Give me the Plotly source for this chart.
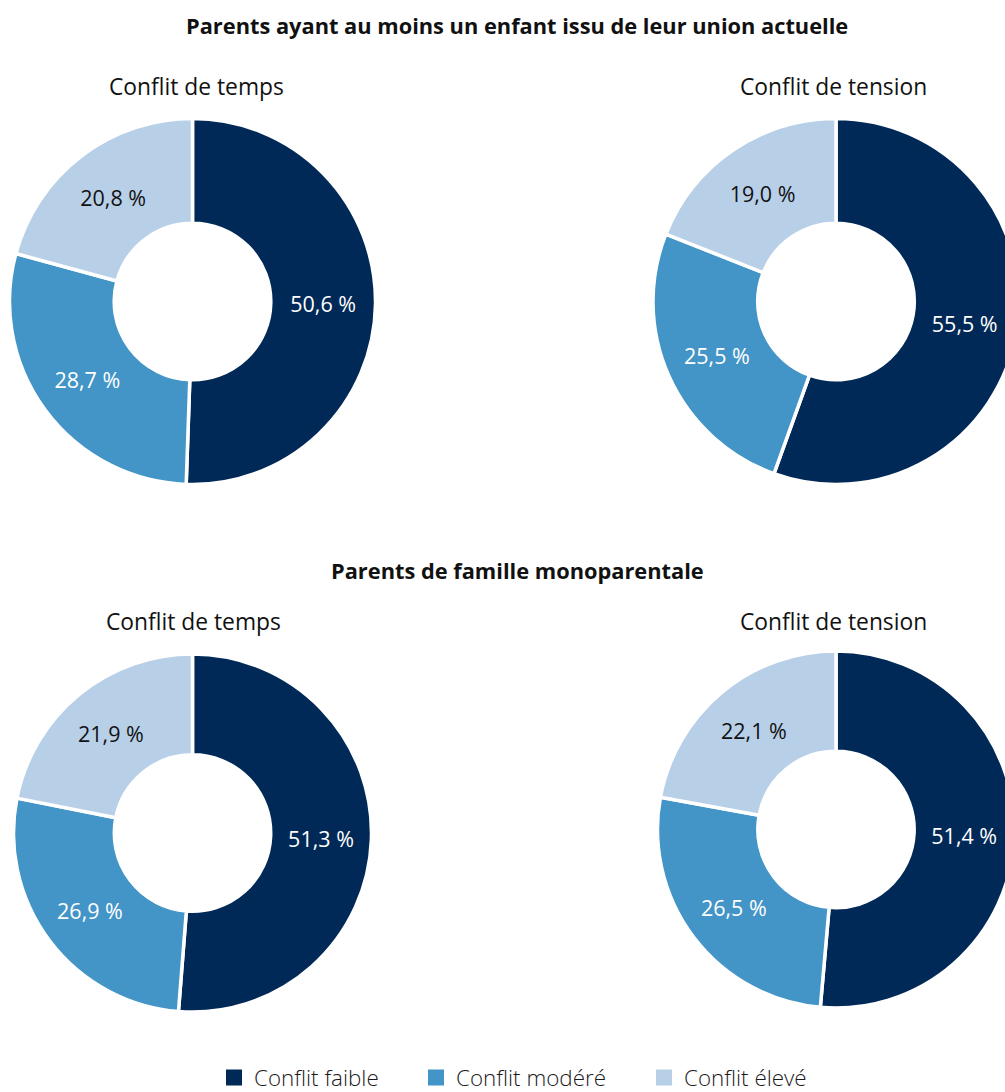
import plotly.graph_objects as go

categories = ["Conflit faible", "Conflit modéré", "Conflit élevé"]
colors = ["#012957", "#4394C7", "#B8CFE8"]

group_titles = ["Parents ayant au moins un enfant issu de leur union actuelle",
                "Parents de famille monoparentale"]
chart_titles = ["Conflit de temps", "Conflit de tension"]

union_temps = [50.6, 28.7, 20.8]
union_tension = [55.5, 25.5, 19.0]
mono_temps = [51.3, 26.9, 21.9]
mono_tension = [51.4, 26.5, 22.1]

W, H = 1040, 1092
FONT = "Open Sans"


def dom(cx, cy, r):
    return dict(x=[(cx - r) / W, (cx + r) / W], y=[1 - (cy + r) / H, 1 - (cy - r) / H])


def fmt(v):
    return f"{v:.1f}".replace(".", ",") + " %"


fig = go.Figure()
specs = [
    (union_temps, dom(192.5, 301.5, 183), 0.428),
    (union_tension, dom(836, 301.5, 183), 0.428),
    (mono_temps, dom(192.5, 833, 179), 0.437),
    (mono_tension, dom(836, 829.5, 178.5), 0.438),
]
for i, (vals, d, hole) in enumerate(specs):
    fig.add_trace(go.Pie(
        labels=categories, values=vals, text=[fmt(v) for v in vals],
        textinfo="text", textposition="inside", insidetextorientation="horizontal",
        sort=False, direction="clockwise", rotation=0, hole=hole, domain=d,
        marker=dict(colors=colors, line=dict(color="white", width=3.5)),
        insidetextfont=dict(family=FONT, size=21.5, color=["white", "white", "#111111"]),
        showlegend=False, hoverinfo="label+percent",
    ))

# legend entries (one legend per category so each can be placed like the reference)
legend_ids = ["legend", "legend2", "legend3"]
legend_centers = [234, 436, 664]
for cat, col, lid in zip(categories, colors, legend_ids):
    fig.add_trace(go.Scatter(
        x=[None], y=[None], mode="markers", name=cat, legend=lid,
        marker=dict(symbol="square", size=16, color=col), showlegend=True,
        hoverinfo="skip",
    ))

ann = []
for t, y in zip(group_titles, [25, 570]):
    ann.append(dict(text=t, x=517 / W, y=1 - y / H, xref="paper", yref="paper",
                    showarrow=False, xanchor="center", yanchor="middle",
                    font=dict(family=FONT, size=21.8, weight="bold", color="#111111")))
for (t, x, y) in [(chart_titles[0], 196.5, 87), (chart_titles[1], 833, 87),
                  (chart_titles[0], 193, 621), (chart_titles[1], 833, 621)]:
    ann.append(dict(text=t, x=x / W, y=1 - y / H, xref="paper", yref="paper",
                    showarrow=False, xanchor="center", yanchor="middle",
                    font=dict(family=FONT, size=22.8, color="#111111")))

legend_style = dict(orientation="h", xanchor="left", y=1 - 1078 / H, yanchor="middle",
                    bgcolor="rgba(0,0,0,0)",
                    font=dict(family=FONT, size=22.4, weight=300, color="#1a1a1a"))
layout_legends = {}
for lid, c in zip(legend_ids, legend_centers):
    layout_legends[lid] = dict(legend_style, x=(c - 20) / W)

fig.update_layout(
    width=W, height=H, margin=dict(l=0, r=0, t=0, b=0, autoexpand=False),
    paper_bgcolor="white", plot_bgcolor="white",
    annotations=ann,
    xaxis=dict(visible=False), yaxis=dict(visible=False),
    **layout_legends,
)

fig.write_html("out.html", config={"displayModeBar": False},
               post_script="document.body.style.margin='0';document.body.style.overflow='hidden';")
